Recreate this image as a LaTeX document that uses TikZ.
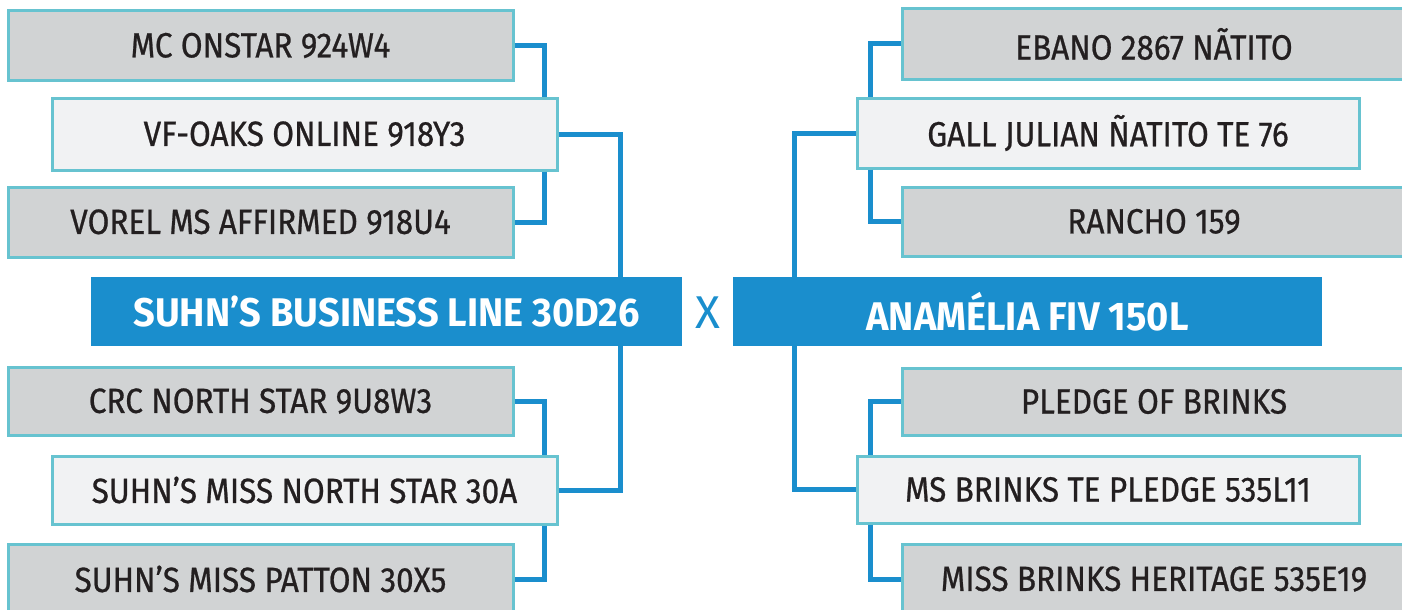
\documentclass[tikz,border=0pt]{standalone}
\usepackage{fontspec}
\setmainfont{Fira Sans}[FakeStretch=0.9, FakeBold=0.7]
\newfontfamily\titlefont{Fira Sans}[FakeStretch=0.95]
\newfontfamily\crossfont{Fira Sans}
\definecolor{boxgray}{HTML}{D1D3D4}
\definecolor{boxlight}{HTML}{F1F2F3}
\definecolor{boxedge}{HTML}{67C3D0}
\definecolor{linkblue}{HTML}{1A8ECD}
\definecolor{txtdark}{HTML}{231F20}
\tikzset{
  horse/.style={draw=boxedge, line width=3pt, inner sep=0pt, text=txtdark,
    font=\fontsize{35}{40}\selectfont, minimum height=70pt},
  sire/.style={horse, fill=boxgray},
  self/.style={horse, fill=boxlight},
  mainbox/.style={fill=linkblue, inner sep=0pt, text=white, minimum height=69pt,
    font=\titlefont\fontsize{40}{44}\selectfont\bfseries},
  conn/.style={draw=linkblue, line width=5pt}
}
\begin{document}
\begin{tikzpicture}[x=1pt,y=-1pt]
\useasboundingbox (0,0) rectangle (1402,610);
\clip (0,0) rectangle (1402,610);
% left side
\node[sire, minimum width=505pt] (A) at (260.5,45.5) {MC ONSTAR 924W4};
\node[self, minimum width=505pt, minimum height=72pt] (B) at (304.5,134) {VF-OAKS ONLINE 918Y3};
\node[sire, minimum width=505pt] (C) at (260.5,222) {VOREL MS AFFIRMED 918U4};
\node[mainbox, minimum width=591pt] (ML) at (386.5,311.5) {SUHN’S BUSINESS LINE 30D26};
\node[sire, minimum width=505pt, minimum height=68pt] (D) at (260.5,401) {CRC NORTH STAR 9U8W3};
\node[self, minimum width=505pt, minimum height=68pt] (E) at (304.5,490) {SUHN’S MISS NORTH STAR 30A};
\node[sire, minimum width=505pt] (F) at (260.5,579) {SUHN’S MISS PATTON 30X5};
% right side
\node[sire, minimum width=504pt] (G) at (1154,44) {EBANO 2867 NÃTITO};
\node[self, minimum width=502pt] (H) at (1108,133) {GALL JULIAN ÑATITO TE 76};
\node[sire, minimum width=504pt, minimum height=69pt] (I) at (1154,221.5) {RANCHO 159};
\node[mainbox, minimum width=589pt] (MR) at (1027.5,311.5) {ANAMÉLIA FIV 150L};
\node[sire, minimum width=504pt, minimum height=67pt] (J) at (1154,401.5) {PLEDGE OF BRINKS};
\node[self, minimum width=502pt, minimum height=67pt] (K) at (1108,489.5) {MS BRINKS TE PLEDGE 535L11};
\node[sire, minimum width=504pt] (L) at (1154,579) {MISS BRINKS HERITAGE 535E19};
% cross
\node[text=linkblue, font=\crossfont\fontsize{46}{50}\selectfont] (X) at (707.5,313) {X};
% junction columns
\coordinate (jL) at (544,0);
\coordinate (kL) at (620,0);
\coordinate (jR) at (870,0);
\coordinate (kR) at (794,0);
% connectors left
\draw[conn] (A.east) -| (B.north -| jL);
\draw[conn] (B.south -| jL) |- (C.east);
\draw[conn] (B.east) -| (ML.north -| kL);
\draw[conn] (D.east) -| (E.north -| jL);
\draw[conn] (E.south -| jL) |- (F.east);
\draw[conn] (E.east) -| (ML.south -| kL);
% connectors right
\draw[conn] (G.west) -| (H.north -| jR);
\draw[conn] (H.south -| jR) |- (I.west);
\draw[conn] (H.west) -| (MR.north -| kR);
\draw[conn] (J.west) -| (K.north -| jR);
\draw[conn] (K.south -| jR) |- (L.west);
\draw[conn] (K.west) -| (MR.south -| kR);
\end{tikzpicture}
\end{document}
